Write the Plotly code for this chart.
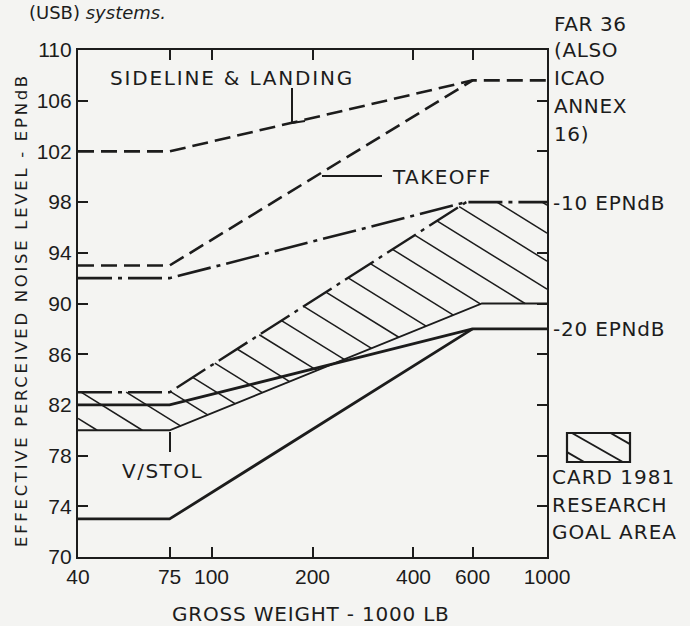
import numpy as np
import plotly.graph_objects as go

# ---------------- data ----------------
sideline_x = [40, 75, 600, 1000]
sideline_y = [102, 102, 107.6, 107.6]

takeoff_x = [40, 75, 600]
takeoff_y = [93, 93, 107.6]

upper_dd_x = [40, 75, 575, 1000]
upper_dd_y = [92, 92, 98, 98]

goal_upper_x = [40, 75, 575, 1000]
goal_upper_y = [83, 83, 98, 98]

goal_lower_x = [40, 75, 640, 1000]
goal_lower_y = [80, 80, 90, 90]

vstol_mid_x = [40, 75, 600, 1000]
vstol_mid_y = [82, 82, 88, 88]

vstol_low_x = [40, 75, 600]
vstol_low_y = [73, 73, 88]

x_ticks = [40, 75, 100, 200, 400, 600, 1000]
y_ticks = list(range(70, 111, 4))

# ---------------- layout constants ----------------
FIG_W, FIG_H = 690, 626
L, R, T, B = 78, 143, 50, 69
W = FIG_W - L - R
H = FIG_H - T - B
XMIN, XMAX = np.log10(40), 3.0
YMIN, YMAX = 70, 110
INK = "#1c1c1c"
BG = "#f4f4f2"
TXT_FONT = "DejaVu Sans"
NUM_FONT = "Liberation Sans Narrow, Liberation Sans, Arial, sans-serif"


def d2p(x, y):
    px = L + (np.log10(x) - XMIN) / (XMAX - XMIN) * W
    py = T + (YMAX - y) / (YMAX - YMIN) * H
    return px, py


def p2d(px, py):
    x = 10 ** (XMIN + (px - L) / W * (XMAX - XMIN))
    y = YMAX - (py - T) / H * (YMAX - YMIN)
    return x, y


def ppx(px):
    return (px - L) / W


def ppy(py):
    return (T + H - py) / H


def hatch(poly, slope, spacing, phase=0.0):
    """Clip lines y = slope*x + c (pixel space) to polygon; return segments."""
    cv = [p[1] - slope * p[0] for p in poly]
    c0 = phase + spacing * np.ceil((min(cv) - phase) / spacing)
    segs = []
    n = len(poly)
    for c in np.arange(c0, max(cv), spacing):
        xs = []
        for i in range(n):
            x1, y1 = poly[i]
            x2, y2 = poly[(i + 1) % n]
            f1 = y1 - slope * x1 - c
            f2 = y2 - slope * x2 - c
            if (f1 < 0) != (f2 < 0):
                t = f1 / (f1 - f2)
                xs.append(x1 + t * (x2 - x1))
        xs.sort()
        for k in range(0, len(xs) - 1, 2):
            segs.append(((xs[k], slope * xs[k] + c), (xs[k + 1], slope * xs[k + 1] + c)))
    return segs


fig = go.Figure()

# hatched goal area
poly = [d2p(x, y) for x, y in zip(goal_upper_x, goal_upper_y)]
poly += [d2p(x, y) for x, y in zip(goal_lower_x[::-1], goal_lower_y[::-1])]
poly = [(float(a), float(b)) for a, b in poly]
hx, hy = [], []
for (a, b) in hatch(poly, 0.62, 28, phase=6):
    xa, ya = p2d(*a)
    xb, yb = p2d(*b)
    hx += [xa, xb, None]
    hy += [ya, yb, None]
fig.add_trace(go.Scatter(x=hx, y=hy, mode="lines", line=dict(color=INK, width=1.5),
                         hoverinfo="skip", showlegend=False))

DASH = "16px,7px"
DASHDOT = "34px,6px,4px,6px"

fig.add_trace(go.Scatter(x=goal_lower_x, y=goal_lower_y, mode="lines",
                         line=dict(color=INK, width=1.8), showlegend=False))
# the upper boundary joins the -10 EPNdB line at 98; draw it only up to the join
fig.add_trace(go.Scatter(x=goal_upper_x[:3], y=goal_upper_y[:3], mode="lines",
                         line=dict(color=INK, width=2.4, dash=DASHDOT), showlegend=False))
fig.add_trace(go.Scatter(x=upper_dd_x, y=upper_dd_y, mode="lines",
                         line=dict(color=INK, width=2.6, dash=DASHDOT), showlegend=False))
fig.add_trace(go.Scatter(x=sideline_x, y=sideline_y, mode="lines",
                         line=dict(color=INK, width=2.6, dash=DASH), showlegend=False))
fig.add_trace(go.Scatter(x=takeoff_x, y=takeoff_y, mode="lines",
                         line=dict(color=INK, width=2.6, dash=DASH), showlegend=False))
fig.add_trace(go.Scatter(x=vstol_mid_x, y=vstol_mid_y, mode="lines",
                         line=dict(color=INK, width=2.8), showlegend=False))
fig.add_trace(go.Scatter(x=vstol_low_x, y=vstol_low_y, mode="lines",
                         line=dict(color=INK, width=2.8), showlegend=False))

shapes = []


def pline(x0, y0, x1, y1, w=2.0):
    shapes.append(dict(type="line", xref="paper", yref="paper",
                       x0=ppx(x0), y0=ppy(y0), x1=ppx(x1), y1=ppy(y1),
                       line=dict(color=INK, width=w)))


# leader lines
pline(292, 88, 292, 123)
pline(292, 123, 305, 121)
pline(322, 176, 382, 176)
pline(170, 432, 170, 452)

# legend box with hatch
bx0, by0, bx1, by1 = 567, 433, 630, 462
shapes.append(dict(type="rect", xref="paper", yref="paper",
                   x0=ppx(bx0), y0=ppy(by0), x1=ppx(bx1), y1=ppy(by1),
                   line=dict(color=INK, width=2.2)))
for (a, b) in hatch([(bx0, by0), (bx1, by0), (bx1, by1), (bx0, by1)], 0.57, 22, phase=-3):
    pline(a[0], a[1], b[0], b[1], 2.0)

annotations = []


def label(text, px, py, size=20, ls=1.0, xanchor="left", angle=0):
    annotations.append(dict(
        text=f'<span style="letter-spacing:{ls}px">{text}</span>',
        xref="paper", yref="paper", x=ppx(px), y=ppy(py),
        xanchor=xanchor, yanchor="middle", showarrow=False, textangle=angle,
        font=dict(family=TXT_FONT, size=size, color=INK)))


label("SIDELINE &amp; LANDING", 108, 78, ls=1.8)
label("TAKEOFF", 390, 177, ls=1.4)
label("V/STOL", 120, 471, ls=1.5)
for txt, yy in [("FAR 36", 24), ("(ALSO", 49.5), ("ICAO", 78), ("ANNEX", 106), ("16)", 134)]:
    label(txt, 552, yy, ls=0.6)
label("-10 EPNdB", 551, 203, ls=0.8)
label("-20 EPNdB", 551, 329, ls=0.8)
for txt, yy in [("CARD 1981", 477), ("RESEARCH", 505), ("GOAL AREA", 532)]:
    label(txt, 550, yy, ls=1.0)
label("GROSS WEIGHT - 1000 LB", 311, 614, ls=0.8, xanchor="center")
label("EFFECTIVE PERCEIVED NOISE LEVEL - EPNdB", 21, 310, size=16.5, ls=2.7,
      xanchor="center", angle=-90)
annotations.append(dict(text="(USB) <i>systems.</i>", xref="paper", yref="paper",
                        x=ppx(27), y=ppy(12), xanchor="left", yanchor="middle",
                        showarrow=False, font=dict(family=TXT_FONT, size=18, color=INK)))

fig.update_layout(
    width=FIG_W, height=FIG_H,
    margin=dict(l=L, r=R, t=T, b=B),
    paper_bgcolor=BG, plot_bgcolor=BG,
    showlegend=False,
    shapes=shapes, annotations=annotations,
    xaxis=dict(type="log", range=[XMIN, XMAX], tickvals=x_ticks,
               ticktext=[str(v) for v in x_ticks],
               ticks="inside", ticklen=10, tickwidth=2, tickcolor=INK,
               showline=True, linewidth=2.2, linecolor=INK, mirror="ticks",
               showgrid=False, zeroline=False,
               tickfont=dict(family=NUM_FONT, size=21, color=INK)),
    yaxis=dict(range=[YMIN, YMAX], tickvals=y_ticks,
               ticks="inside", ticklen=10, tickwidth=2, tickcolor=INK,
               showline=True, linewidth=2.2, linecolor=INK, mirror="ticks",
               showgrid=False, zeroline=False,
               tickfont=dict(family=NUM_FONT, size=21, color=INK)),
)

fig.write_html("out.html")
